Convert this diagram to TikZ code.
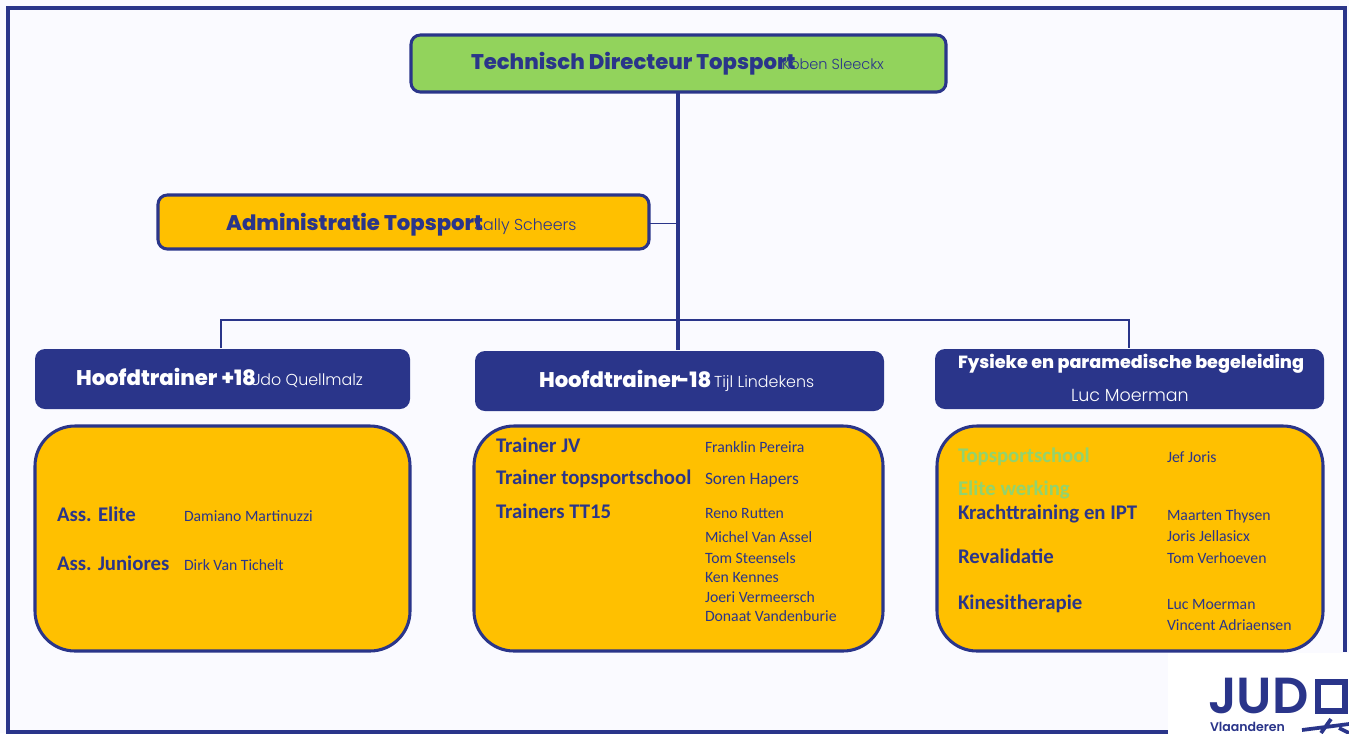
\documentclass[tikz,border=0pt]{standalone}
\usepackage{fontspec}
\setmainfont{Carlito}
\newfontfamily\pop{Poppins}[UprightFont=*-ExtraBold]
\newfontfamily\popl{Poppins}[UprightFont=*-Light]
\newfontfamily\pops{Poppins}[UprightFont=*-SemiBold]
\definecolor{navy}{HTML}{2A358A}
\definecolor{gold}{HTML}{FFC000}
\definecolor{leaf}{HTML}{92D35C}
\definecolor{paper}{HTML}{FAFAFF}
\definecolor{mint}{HTML}{92D36E}
\newcommand{\fs}[1]{\fontsize{#1}{#1}\selectfont}
\tikzset{
  x=0.75pt,y=-0.75pt,
  box/.style={draw=navy,line width=2.3pt,fill=gold,rounded corners=#1},
  head/.style={fill=navy,rounded corners=7.5pt},
  tb/.style={anchor=base west,inner sep=0pt,outer sep=0pt,text=navy},
  ttl/.style={tb,font=\pop\fs{15.9}},
  sub/.style={tb,font=\popl\fs{11.9}},
  lab/.style={tb,font=\bfseries\fs{15.6}},
  nam/.style={tb,font=\fs{11.8}},
  wire/.style={draw=navy,line width=2.8pt},
}
\begin{document}
\begin{tikzpicture}
\useasboundingbox (0,0) rectangle (1349,733);
\fill[paper] (0,0) rectangle (1349,733);
% frame
\draw[navy,line width=3pt] (1168,731.5) -- (8,731.5) -- (8,8) -- (1345,8) -- (1345,652);
\fill[white] (1168,653) rectangle (1349,733);
% boxes
\path[box=7pt,fill=leaf] (411,35) rectangle (946,92);
\node[inner sep=0pt] (dir) at (678,92) {};
\path[box=7pt] (158,195) rectangle (649,249);
\node[inner sep=0pt] (adm) at (649,223) {};
\node[inner sep=0pt] (t1) at (221,349) {};
\node[inner sep=0pt] (t2) at (678,351) {};
\node[inner sep=0pt] (t3) at (1129,349) {};
\node[inner sep=0pt] (j1) at (678,223) {};
\node[inner sep=0pt] (j2) at (678,320) {};
% connectors
\draw[wire] (dir) -- (t2);
\draw[navy,line width=0.7pt] (adm) -- (j1);
\draw[navy,line width=2.2pt] (t1) |- (j2) -| (t3);
% header bars
\path[head] (35,349) rectangle (410,409);
\path[head] (475,351) rectangle (884,411);
\path[head] (935,349) rectangle (1324,409);
% panels
\path[box=30pt] (35,426) rectangle (410,651);
\path[box=30pt] (474,426) rectangle (883,651);
\path[box=30pt] (937,426) rectangle (1323,651);
% top texts
\node[ttl] (a) at (471,69) {Technisch Directeur Topsport};
\node[sub,font=\popl\fs{10.9}] (b) at (782,69) {Koben Sleeckx};
\node[ttl] (c) at (226,230) {Administratie Topsport};
\node[sub] (d) at (474,230) {Sally Scheers};
\node[ttl,text=white] (e) at (76,385) {Hoofdtrainer +18};
\node[sub,text=white] (f) at (250,385) {Udo Quellmalz};
\node[ttl,text=white] (g) at (539,387) {Hoofdtrainer \kern-.35em-18};
\node[sub,text=white] (h) at (714,387) {Tijl Lindekens};
\node[ttl,text=white,font=\pop\fs{13.2}] (i) at (958,368) {Fysieke en paramedische begeleiding};
\node[sub,text=white,font=\popl\fs{13.1}] (k) at (1071,401) {Luc Moerman};
% left panel
\node[lab] (l1) at (57,521) {Ass. Elite};
\node[nam] (l2) at (184,521) {Damiano Martinuzzi};
\node[lab] (l3) at (57,570) {Ass. Juniores};
\node[nam] (l4) at (184,570) {Dirk Van Tichelt};
% middle panel
\node[lab] (m1) at (496,452) {Trainer JV};
\node[nam] (m2) at (705,452) {Franklin Pereira};
\node[lab] (m3) at (496,484) {Trainer topsportschool};
\node[nam,font=\fs{13}] (m4) at (705,484) {Soren Hapers};
\node[lab] (m5) at (496,518) {Trainers TT15};
\node[nam] (m6) at (705,518) {Reno Rutten};
\node[nam] (m7) at (705,542) {Michel Van Assel};
\node[nam] (m8) at (705,563) {Tom Steensels};
\node[nam] (m9) at (705,582) {Ken Kennes};
\node[nam] (m10) at (705,602) {Joeri Vermeersch};
\node[nam] (m11) at (705,621) {Donaat Vandenburie};
% right panel
\node[lab,text=mint] (r1) at (958,462) {Topsportschool};
\node[nam] (r2) at (1167,462) {Jef Joris};
\node[lab,text=mint] (r3) at (958,495) {Elite werking};
\node[lab] (r4) at (958,519) {Krachttraining en IPT};
\node[nam] (r5) at (1167,520) {Maarten Thysen};
\node[nam] (r6) at (1167,541) {Joris Jellasicx};
\node[lab] (r7) at (958,563) {Revalidatie};
\node[nam] (r8) at (1167,563) {Tom Verhoeven};
\node[lab] (r9) at (958,609) {Kinesitherapie};
\node[nam] (r10) at (1167,609) {Luc Moerman};
\node[nam] (r11) at (1167,630) {Vincent Adriaensen};
% logo
\begin{scope}
\clip (1168,653) rectangle (1349,733);
\node[tb,font=\pops\fs{38}] (lg) at (1208,713) {JUD};
\draw[navy,line width=4.5pt] (1317.5,682) rectangle (1345,711);
\node[tb,font=\pops\fs{9.4}] (lv) at (1210,731.5) {Vlaanderen};
\draw[navy,line width=2.8pt] (1302,730) -- (1349,724) (1331,719) -- (1321,733) (1339,728) -- (1349,733);
\end{scope}
\end{tikzpicture}
\end{document}
